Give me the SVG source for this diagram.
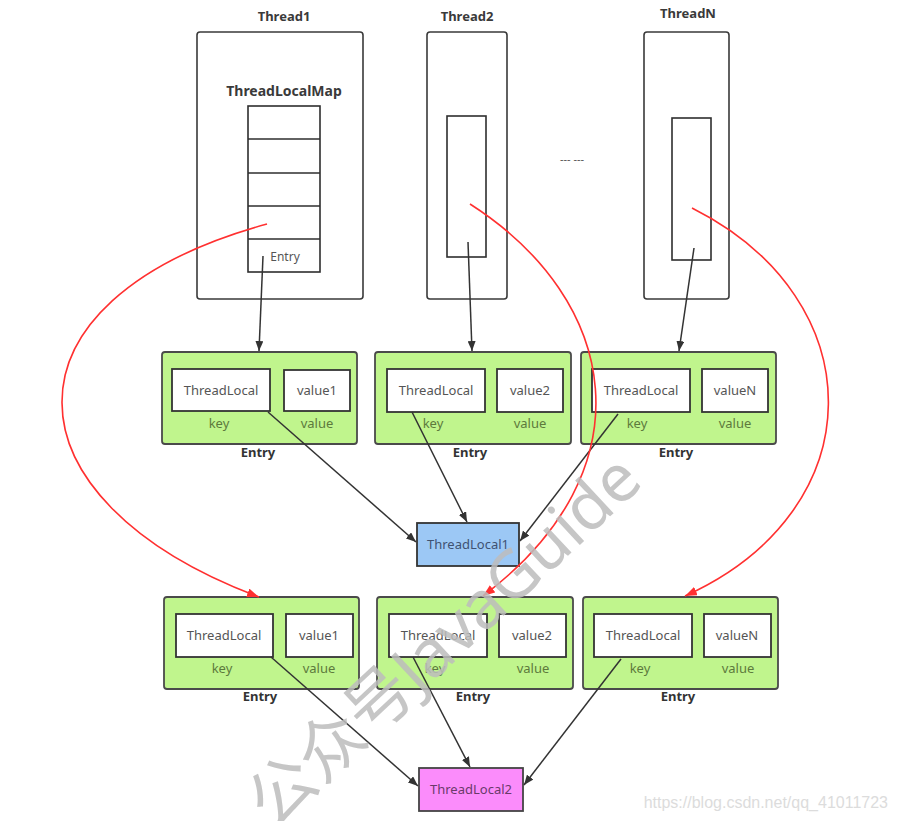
<svg xmlns="http://www.w3.org/2000/svg" width="898" height="821" viewBox="0 0 898 821">
<style>
text{font-family:"Noto Sans","Open Sans",sans-serif}
.title{font-size:13px;font-weight:bold;fill:#3a3a3a;text-anchor:middle}
.thread{fill:#fff;stroke:#3a3a3a;stroke-width:1.6}
.cell{fill:#fff;stroke:#2e2e2e;stroke-width:1.6}
.entry{fill:#c0f58d;stroke:#4a4a4a;stroke-width:1.8}
.inner{fill:#fff;stroke:#333;stroke-width:1.8}
.lbl{font-size:13px;fill:#555;text-anchor:middle}
.kv{font-size:13px;fill:#5d7a3c;text-anchor:middle}
.ent{font-size:13px;font-weight:bold;fill:#333;text-anchor:middle}
.blk{fill:none;stroke:#333;stroke-width:1.5}
.red{fill:none;stroke:#ff3030;stroke-width:1.6}
</style>
<defs>
<marker id="ab" viewBox="0 0 10 8" markerWidth="10" markerHeight="8" refX="10" refY="4" orient="auto" markerUnits="userSpaceOnUse"><path d="M0,0 L10,4 L0,8 z" fill="#333"/></marker>
<marker id="ar" viewBox="0 0 12 9" markerWidth="12" markerHeight="9" refX="12" refY="4.5" orient="auto" markerUnits="userSpaceOnUse"><path d="M0,0 L12,4.5 L0,9 z" fill="#ff3030"/></marker>
</defs>
<rect width="898" height="821" fill="#fff"/>

<g id="thread1">
<text class="title" x="284" y="21">Thread1</text>
<rect class="thread" x="197" y="32" width="166" height="267" rx="3"/>
<text class="title" x="284" y="96" style="font-size:14px">ThreadLocalMap</text>
<rect class="cell" x="248" y="106" width="72" height="166"/>
<line class="cell" x1="248" y1="139" x2="320" y2="139"/>
<line class="cell" x1="248" y1="173" x2="320" y2="173"/>
<line class="cell" x1="248" y1="206" x2="320" y2="206"/>
<line class="cell" x1="248" y1="239" x2="320" y2="239"/>
<text class="lbl" x="285" y="261" style="font-size:12px">Entry</text>
</g>

<g id="thread2">
<text class="title" x="467" y="21">Thread2</text>
<rect class="thread" x="427" y="32" width="80" height="267" rx="3"/>
<rect class="cell" x="447" y="116" width="39" height="141"/>
</g>

<text x="572" y="163" style="font-size:11px;fill:#555;text-anchor:middle">--- ---</text>

<g id="threadN">
<text class="title" x="688" y="18">ThreadN</text>
<rect class="thread" x="644" y="32" width="85" height="267" rx="3"/>
<rect class="cell" x="672" y="118" width="39" height="142"/>
</g>

<g id="entry1a">
<rect class="entry" x="162" y="352" width="195" height="92" rx="3"/>
<rect class="inner" x="172" y="369" width="98" height="42"/>
<text class="lbl" x="221" y="395">ThreadLocal</text>
<rect class="inner" x="284" y="370" width="66" height="41"/>
<text class="lbl" x="317" y="395">value1</text>
<text class="kv" x="219" y="428">key</text>
<text class="kv" x="317" y="428">value</text>
<text class="ent" x="258" y="457">Entry</text>
</g>
<g id="entry2a">
<rect class="entry" x="375" y="352" width="196" height="92" rx="3"/>
<rect class="inner" x="387" y="369" width="98" height="43"/>
<text class="lbl" x="436" y="395">ThreadLocal</text>
<rect class="inner" x="497" y="369" width="66" height="43"/>
<text class="lbl" x="530" y="395">value2</text>
<text class="kv" x="433" y="428">key</text>
<text class="kv" x="530" y="428">value</text>
<text class="ent" x="470" y="457">Entry</text>
</g>
<g id="entryNa">
<rect class="entry" x="581" y="352" width="195" height="92" rx="3"/>
<rect class="inner" x="592" y="369" width="98" height="43"/>
<text class="lbl" x="641" y="395">ThreadLocal</text>
<rect class="inner" x="702" y="369" width="66" height="43"/>
<text class="lbl" x="735" y="395">valueN</text>
<text class="kv" x="637" y="428">key</text>
<text class="kv" x="735" y="428">value</text>
<text class="ent" x="676" y="457">Entry</text>
</g>

<g id="threadLocal1">
<rect x="417" y="523" width="102" height="43" fill="#9cc8f5" stroke="#333" stroke-width="1.8"/>
<text x="468" y="549" style="font-size:13px;fill:#3f5272;text-anchor:middle">ThreadLocal1</text>
</g>

<g id="entry1b">
<rect class="entry" x="164" y="597" width="195" height="92" rx="3"/>
<rect class="inner" x="176" y="614" width="97" height="43"/>
<text class="lbl" x="224" y="640">ThreadLocal</text>
<rect class="inner" x="286" y="614" width="67" height="43"/>
<text class="lbl" x="319" y="640">value1</text>
<text class="kv" x="222" y="673">key</text>
<text class="kv" x="319" y="673">value</text>
<text class="ent" x="260" y="701">Entry</text>
</g>
<g id="entry2b">
<rect class="entry" x="377" y="597" width="196" height="92" rx="3"/>
<rect class="inner" x="389" y="614" width="98" height="43"/>
<text class="lbl" x="438" y="640">ThreadLocal</text>
<rect class="inner" x="499" y="614" width="67" height="43"/>
<text class="lbl" x="532" y="640">value2</text>
<text class="kv" x="435" y="673">key</text>
<text class="kv" x="533" y="673">value</text>
<text class="ent" x="473" y="701">Entry</text>
</g>
<g id="entryNb">
<rect class="entry" x="583" y="597" width="195" height="92" rx="3"/>
<rect class="inner" x="594" y="614" width="98" height="43"/>
<text class="lbl" x="643" y="640">ThreadLocal</text>
<rect class="inner" x="704" y="614" width="67" height="43"/>
<text class="lbl" x="737" y="640">valueN</text>
<text class="kv" x="640" y="673">key</text>
<text class="kv" x="738" y="673">value</text>
<text class="ent" x="678" y="701">Entry</text>
</g>

<g id="threadLocal2">
<rect x="419" y="768" width="104" height="43" fill="#fb8cfb" stroke="#444" stroke-width="1.8"/>
<text x="471" y="794" style="font-size:13px;fill:#6a3a6a;text-anchor:middle">ThreadLocal2</text>
</g>

<g id="connectors">
<path class="blk" d="M263,256 L259,351" marker-end="url(#ab)"/>
<path class="blk" d="M468,242 L472,351" marker-end="url(#ab)"/>
<path class="blk" d="M694,248 L679,351" marker-end="url(#ab)"/>
<path class="blk" d="M268,412 L416,542" marker-end="url(#ab)"/>
<path class="blk" d="M412,412 L467,522" marker-end="url(#ab)"/>
<path class="blk" d="M618,414 L520,541" marker-end="url(#ab)"/>
<path class="blk" d="M271,657 L418,786" marker-end="url(#ab)"/>
<path class="blk" d="M413,657 L470,767" marker-end="url(#ab)"/>
<path class="blk" d="M621,659 L524,785" marker-end="url(#ab)"/>
<path class="red" d="M267,224 C -10,300 0,500 259,597" marker-end="url(#ar)"/>
<path class="red" d="M470,204 C 620,300 650,470 483,596" marker-end="url(#ar)"/>
<path class="red" d="M692,208 C 875,300 875,510 685,596" marker-end="url(#ar)"/>
</g>

<text x="274" y="830" transform="rotate(-43 274 830)" style="font-family:'Noto Sans','Noto Sans CJK SC',sans-serif;font-size:66px;fill:#bdbdbd;opacity:0.85">公众号JavaGuide</text>
<text x="888" y="808" style="font-family:'Liberation Sans',Arial,sans-serif;font-size:16px;fill:#dcdcdc;text-anchor:end">https://blog.csdn.net/qq_41011723</text>
</svg>
